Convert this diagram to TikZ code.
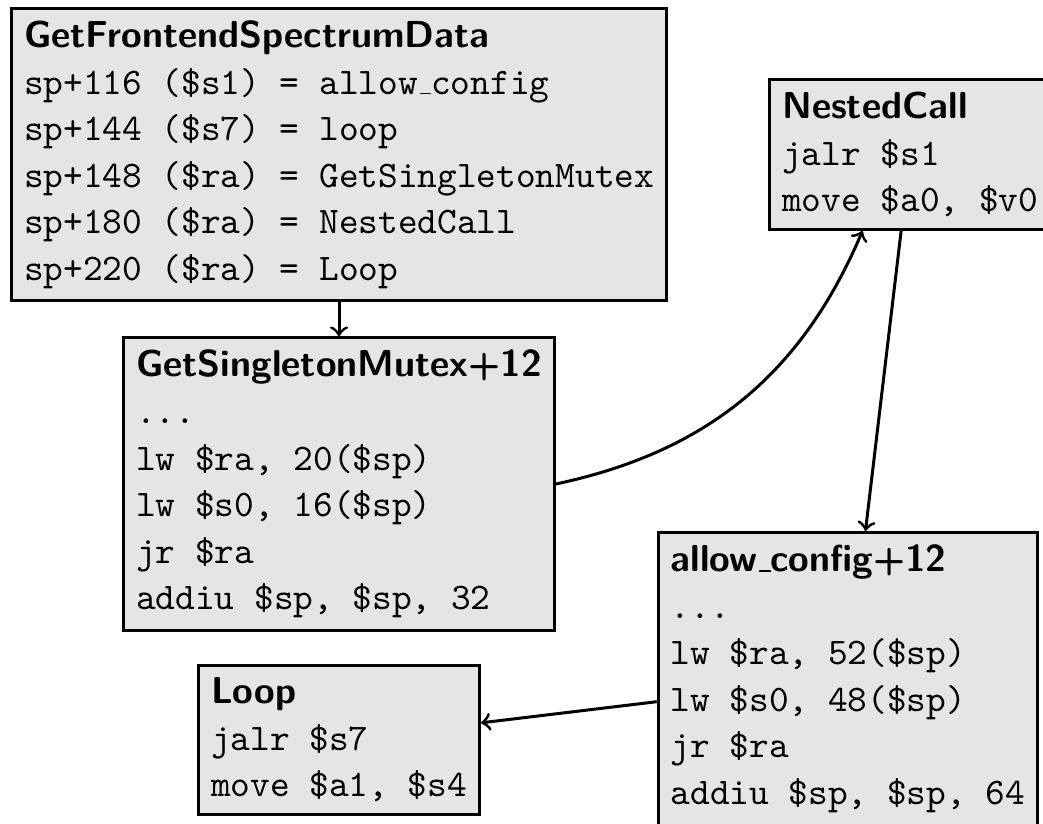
\documentclass[tikz,border=0pt]{standalone}
\usetikzlibrary{positioning}
\newcommand{\blktitle}[1]{\textsf{\bfseries #1}}
\newcommand{\us}{\leavevmode\kern.06em\vbox{\hrule width.3em}}

\begin{document}
\begin{tikzpicture}[>=to,node distance=9pt,
  blk/.style={draw,thick,fill=black!10,align=left,font={\ttfamily\fontsize{10pt}{12.4pt}\selectfont}}]
\useasboundingbox (0,0) rectangle (278.1pt,-219.5pt);
\node[blk] (b1) at (90.4pt,-41.2pt) {\blktitle{GetFrontendSpectrumData}\\
sp+116 (\$s1) = allow\us config\\
sp+144 (\$s7) = loop\\
sp+148 (\$ra) = GetSingletonMutex\\
sp+180 (\$ra) = NestedCall\\
sp+220 (\$ra) = Loop};
\node[blk,below=of b1] (b2) {\blktitle{GetSingletonMutex+12}\\
...\\
lw \$ra, 20(\$sp)\\
lw \$s0, 16(\$sp)\\
jr \$ra\\
addiu \$sp, \$sp, 32};
\node[blk,below=8.5pt of b2] (lp) {\blktitle{Loop}\\
jalr \$s7\\
move \$a1, \$s4};
\node[blk,right=26.7pt of b1] (nc) {\blktitle{NestedCall}\\
jalr \$s1\\
move \$a0, \$v0};
\node[blk,below=80pt of nc,xshift=-16.6pt] (ac) {\blktitle{allow\us config+12}\\
...\\
lw \$ra, 52(\$sp)\\
lw \$s0, 48(\$sp)\\
jr \$ra\\
addiu \$sp, \$sp, 64};
% call edges
\draw[->,thick] (b1) -- (b2);
\draw[->,thick] (b2.east) to[out=12,in=-113] (nc.238);
\draw[->,thick] (nc) -- (ac);
\draw[->,thick] (ac) -- (lp);
\end{tikzpicture}
\end{document}
